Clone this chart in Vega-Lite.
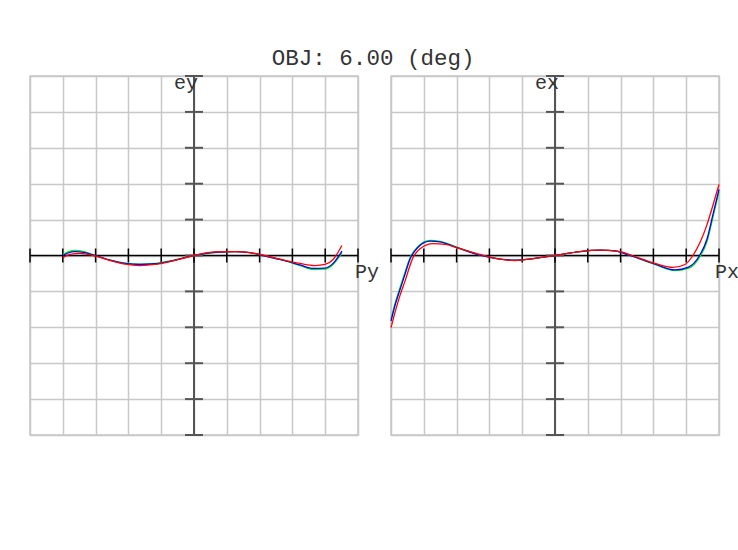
{
  "$schema": "https://vega.github.io/schema/vega-lite/v6.json",
  "padding": {"left": 28, "top": 46, "right": 0, "bottom": 0},
  "bounds": "flush",
  "background": "white",
  "title": {"text": "OBJ: 6.00 (deg)", "anchor": "middle", "font": "Liberation Mono", "fontSize": 22.5, "fontWeight": "normal", "color": "#333333", "offset": 3, "dx": -11},
  "config": {
    "view": {"stroke": "#c8c8c8", "strokeWidth": 1.5},
    "axis": {"grid": true, "gridColor": "#c8c8c8", "gridWidth": 1.5, "gridOpacity": 1, "labels": false, "ticks": false, "domain": false, "title": null, "tickCount": 30, "minExtent": 0, "maxExtent": 0, "offset": 0}
  },
  "datasets": {
    "one": [{"a": 0}],
    "fany": [
      {"Py": -0.8, "ey": 0.3, "wl": "green"},
      {"Py": -0.768, "ey": 1.0, "wl": "green"},
      {"Py": -0.726, "ey": 1.4, "wl": "green"},
      {"Py": -0.665, "ey": 1.0, "wl": "green"},
      {"Py": -0.604, "ey": 0.0, "wl": "green"},
      {"Py": -0.512, "ey": -1.3, "wl": "green"},
      {"Py": -0.421, "ey": -2.1, "wl": "green"},
      {"Py": -0.329, "ey": -2.4, "wl": "green"},
      {"Py": -0.238, "ey": -2.2, "wl": "green"},
      {"Py": -0.146, "ey": -1.5, "wl": "green"},
      {"Py": 0.0, "ey": 0.0, "wl": "green"},
      {"Py": 0.128, "ey": 0.8, "wl": "green"},
      {"Py": 0.25, "ey": 1.1, "wl": "green"},
      {"Py": 0.341, "ey": 0.8, "wl": "green"},
      {"Py": 0.421, "ey": 0.0, "wl": "green"},
      {"Py": 0.524, "ey": -1.1, "wl": "green"},
      {"Py": 0.646, "ey": -2.8, "wl": "green"},
      {"Py": 0.726, "ey": -3.9, "wl": "green"},
      {"Py": 0.799, "ey": -3.8, "wl": "green"},
      {"Py": 0.848, "ey": -2.5, "wl": "green"},
      {"Py": 0.902, "ey": 0.8, "wl": "green"},
      {"Py": -0.8, "ey": 0.0, "wl": "blue"},
      {"Py": -0.768, "ey": 0.7, "wl": "blue"},
      {"Py": -0.726, "ey": 1.1, "wl": "blue"},
      {"Py": -0.665, "ey": 0.8, "wl": "blue"},
      {"Py": -0.604, "ey": 0.0, "wl": "blue"},
      {"Py": -0.512, "ey": -1.3, "wl": "blue"},
      {"Py": -0.421, "ey": -2.2, "wl": "blue"},
      {"Py": -0.329, "ey": -2.5, "wl": "blue"},
      {"Py": -0.238, "ey": -2.3, "wl": "blue"},
      {"Py": -0.146, "ey": -1.6, "wl": "blue"},
      {"Py": 0.0, "ey": 0.0, "wl": "blue"},
      {"Py": 0.128, "ey": 0.9, "wl": "blue"},
      {"Py": 0.25, "ey": 1.1, "wl": "blue"},
      {"Py": 0.341, "ey": 0.8, "wl": "blue"},
      {"Py": 0.421, "ey": 0.0, "wl": "blue"},
      {"Py": 0.524, "ey": -1.1, "wl": "blue"},
      {"Py": 0.646, "ey": -2.6, "wl": "blue"},
      {"Py": 0.726, "ey": -3.6, "wl": "blue"},
      {"Py": 0.799, "ey": -3.5, "wl": "blue"},
      {"Py": 0.848, "ey": -2.2, "wl": "blue"},
      {"Py": 0.902, "ey": 1.2, "wl": "blue"},
      {"Py": -0.8, "ey": -0.6, "wl": "red"},
      {"Py": -0.756, "ey": 0.3, "wl": "red"},
      {"Py": -0.695, "ey": 0.6, "wl": "red"},
      {"Py": -0.604, "ey": -0.1, "wl": "red"},
      {"Py": -0.512, "ey": -1.4, "wl": "red"},
      {"Py": -0.421, "ey": -2.4, "wl": "red"},
      {"Py": -0.329, "ey": -2.8, "wl": "red"},
      {"Py": -0.238, "ey": -2.5, "wl": "red"},
      {"Py": -0.146, "ey": -1.7, "wl": "red"},
      {"Py": 0.0, "ey": 0.0, "wl": "red"},
      {"Py": 0.128, "ey": 1.0, "wl": "red"},
      {"Py": 0.25, "ey": 1.1, "wl": "red"},
      {"Py": 0.341, "ey": 0.8, "wl": "red"},
      {"Py": 0.433, "ey": 0.0, "wl": "red"},
      {"Py": 0.524, "ey": -1.0, "wl": "red"},
      {"Py": 0.646, "ey": -2.2, "wl": "red"},
      {"Py": 0.738, "ey": -2.8, "wl": "red"},
      {"Py": 0.799, "ey": -2.5, "wl": "red"},
      {"Py": 0.848, "ey": -1.1, "wl": "red"},
      {"Py": 0.902, "ey": 2.8, "wl": "red"}
    ],
    "fanx": [
      {"Px": -1.0, "ex": -17.8, "wl": "green"},
      {"Px": -0.976, "ex": -13.4, "wl": "green"},
      {"Px": -0.945, "ex": -8.9, "wl": "green"},
      {"Px": -0.915, "ex": -4.7, "wl": "green"},
      {"Px": -0.884, "ex": -0.6, "wl": "green"},
      {"Px": -0.835, "ex": 2.5, "wl": "green"},
      {"Px": -0.762, "ex": 4.2, "wl": "green"},
      {"Px": -0.701, "ex": 3.9, "wl": "green"},
      {"Px": -0.61, "ex": 2.5, "wl": "green"},
      {"Px": -0.457, "ex": 0.1, "wl": "green"},
      {"Px": -0.335, "ex": -1.0, "wl": "green"},
      {"Px": -0.244, "ex": -1.3, "wl": "green"},
      {"Px": -0.122, "ex": -0.8, "wl": "green"},
      {"Px": 0.0, "ex": 0.0, "wl": "green"},
      {"Px": 0.152, "ex": 1.1, "wl": "green"},
      {"Px": 0.274, "ex": 1.5, "wl": "green"},
      {"Px": 0.366, "ex": 1.3, "wl": "green"},
      {"Px": 0.457, "ex": 0.0, "wl": "green"},
      {"Px": 0.61, "ex": -2.5, "wl": "green"},
      {"Px": 0.732, "ex": -4.2, "wl": "green"},
      {"Px": 0.811, "ex": -3.6, "wl": "green"},
      {"Px": 0.884, "ex": -0.3, "wl": "green"},
      {"Px": 0.927, "ex": 3.9, "wl": "green"},
      {"Px": 0.963, "ex": 10.6, "wl": "green"},
      {"Px": 1.0, "ex": 17.8, "wl": "green"},
      {"Px": -1.0, "ex": -18.3, "wl": "blue"},
      {"Px": -0.976, "ex": -14.0, "wl": "blue"},
      {"Px": -0.945, "ex": -9.5, "wl": "blue"},
      {"Px": -0.915, "ex": -5.3, "wl": "blue"},
      {"Px": -0.884, "ex": -1.0, "wl": "blue"},
      {"Px": -0.835, "ex": 2.3, "wl": "blue"},
      {"Px": -0.762, "ex": 4.0, "wl": "blue"},
      {"Px": -0.701, "ex": 3.8, "wl": "blue"},
      {"Px": -0.61, "ex": 2.4, "wl": "blue"},
      {"Px": -0.457, "ex": 0.1, "wl": "blue"},
      {"Px": -0.335, "ex": -1.0, "wl": "blue"},
      {"Px": -0.244, "ex": -1.3, "wl": "blue"},
      {"Px": -0.122, "ex": -0.8, "wl": "blue"},
      {"Px": 0.0, "ex": 0.0, "wl": "blue"},
      {"Px": 0.152, "ex": 1.1, "wl": "blue"},
      {"Px": 0.274, "ex": 1.5, "wl": "blue"},
      {"Px": 0.366, "ex": 1.3, "wl": "blue"},
      {"Px": 0.457, "ex": 0.0, "wl": "blue"},
      {"Px": 0.61, "ex": -2.4, "wl": "blue"},
      {"Px": 0.732, "ex": -4.0, "wl": "blue"},
      {"Px": 0.811, "ex": -3.3, "wl": "blue"},
      {"Px": 0.884, "ex": 0.2, "wl": "blue"},
      {"Px": 0.927, "ex": 4.6, "wl": "blue"},
      {"Px": 0.963, "ex": 11.4, "wl": "blue"},
      {"Px": 1.0, "ex": 18.4, "wl": "blue"},
      {"Px": -1.0, "ex": -20.1, "wl": "red"},
      {"Px": -0.976, "ex": -15.9, "wl": "red"},
      {"Px": -0.945, "ex": -11.1, "wl": "red"},
      {"Px": -0.915, "ex": -7.2, "wl": "red"},
      {"Px": -0.866, "ex": -0.6, "wl": "red"},
      {"Px": -0.823, "ex": 1.9, "wl": "red"},
      {"Px": -0.744, "ex": 3.3, "wl": "red"},
      {"Px": -0.67, "ex": 3.1, "wl": "red"},
      {"Px": -0.579, "ex": 1.9, "wl": "red"},
      {"Px": -0.457, "ex": 0.3, "wl": "red"},
      {"Px": -0.335, "ex": -1.0, "wl": "red"},
      {"Px": -0.244, "ex": -1.4, "wl": "red"},
      {"Px": -0.122, "ex": -0.8, "wl": "red"},
      {"Px": 0.0, "ex": 0.0, "wl": "red"},
      {"Px": 0.152, "ex": 1.1, "wl": "red"},
      {"Px": 0.274, "ex": 1.5, "wl": "red"},
      {"Px": 0.396, "ex": 1.1, "wl": "red"},
      {"Px": 0.47, "ex": 0.0, "wl": "red"},
      {"Px": 0.61, "ex": -2.2, "wl": "red"},
      {"Px": 0.72, "ex": -3.3, "wl": "red"},
      {"Px": 0.793, "ex": -2.5, "wl": "red"},
      {"Px": 0.841, "ex": 0.0, "wl": "red"},
      {"Px": 0.884, "ex": 3.6, "wl": "red"},
      {"Px": 0.927, "ex": 8.6, "wl": "red"},
      {"Px": 0.963, "ex": 14.0, "wl": "red"},
      {"Px": 1.0, "ex": 19.8, "wl": "red"}
    ],
    "pticks": [
      {"p": -1.0}, {"p": -0.8}, {"p": -0.6}, {"p": -0.4}, {"p": -0.2}, {"p": 0.0},
      {"p": 0.2}, {"p": 0.4}, {"p": 0.6}, {"p": 0.8}, {"p": 1.0}
    ],
    "eticks": [
      {"e": -50}, {"e": -40}, {"e": -30}, {"e": -20}, {"e": -10}, {"e": 0},
      {"e": 10}, {"e": 20}, {"e": 30}, {"e": 40}, {"e": 50}
    ]
  },
  "spacing": 33,
  "hconcat": [
    {
      "width": 328,
      "height": 359,
      "layer": [
        {
          "data": {"name": "one"},
          "mark": {"type": "rule", "color": "#000000", "strokeWidth": 1.5},
          "encoding": {"y": {"datum": 0, "type": "quantitative", "scale": {"domain": [-50, 50], "nice": false}, "axis": {"values": [-50, -40, -30, -20, -10, 0, 10, 20, 30, 40, 50]}}}
        },
        {
          "data": {"name": "one"},
          "mark": {"type": "rule", "color": "#555555", "strokeWidth": 2},
          "encoding": {"x": {"datum": 0, "type": "quantitative", "scale": {"domain": [-1, 1], "nice": false, "zero": false}, "axis": {"values": [-1, -0.8, -0.6, -0.4, -0.2, 0, 0.2, 0.4, 0.6, 0.8, 1]}}}
        },
        {
          "data": {"name": "pticks"},
          "mark": {"type": "tick", "orient": "vertical", "size": 14, "thickness": 1.5, "color": "#000000", "opacity": 1},
          "encoding": {"x": {"field": "p", "type": "quantitative"}, "y": {"datum": 0, "type": "quantitative"}}
        },
        {
          "data": {"name": "eticks"},
          "mark": {"type": "tick", "orient": "horizontal", "size": 18, "thickness": 2, "color": "#555555", "opacity": 1},
          "encoding": {"y": {"field": "e", "type": "quantitative"}, "x": {"datum": 0, "type": "quantitative"}}
        },
        {
          "data": {"name": "fany"},
          "mark": {"type": "line", "interpolate": "monotone", "strokeWidth": 1.3},
          "encoding": {
            "x": {"field": "Py", "type": "quantitative"},
            "y": {"field": "ey", "type": "quantitative"},
            "color": {"field": "wl", "type": "nominal", "scale": {"domain": ["green", "blue", "red"], "range": ["#00ee00", "#0000ff", "#ff0000"]}, "legend": null}
          }
        },
        {
          "data": {"name": "one"},
          "mark": {"type": "text", "font": "Liberation Mono", "fontSize": 20, "color": "#333333", "align": "right", "baseline": "alphabetic", "dx": 4, "dy": 13},
          "encoding": {"x": {"datum": 0, "type": "quantitative"}, "y": {"datum": 50, "type": "quantitative"}, "text": {"value": "ey"}}
        },
        {
          "data": {"name": "one"},
          "mark": {"type": "text", "font": "Liberation Mono", "fontSize": 20, "color": "#333333", "align": "left", "baseline": "alphabetic", "dx": -3, "dy": 22},
          "encoding": {"x": {"datum": 1, "type": "quantitative"}, "y": {"datum": 0, "type": "quantitative"}, "text": {"value": "Py"}}
        }
      ]
    },
    {
      "width": 328,
      "height": 359,
      "layer": [
        {
          "data": {"name": "one"},
          "mark": {"type": "rule", "color": "#000000", "strokeWidth": 1.5},
          "encoding": {"y": {"datum": 0, "type": "quantitative", "scale": {"domain": [-50, 50], "nice": false}, "axis": {"values": [-50, -40, -30, -20, -10, 0, 10, 20, 30, 40, 50]}}}
        },
        {
          "data": {"name": "one"},
          "mark": {"type": "rule", "color": "#555555", "strokeWidth": 2},
          "encoding": {"x": {"datum": 0, "type": "quantitative", "scale": {"domain": [-1, 1], "nice": false, "zero": false}, "axis": {"values": [-1, -0.8, -0.6, -0.4, -0.2, 0, 0.2, 0.4, 0.6, 0.8, 1]}}}
        },
        {
          "data": {"name": "pticks"},
          "mark": {"type": "tick", "orient": "vertical", "size": 14, "thickness": 1.5, "color": "#000000", "opacity": 1},
          "encoding": {"x": {"field": "p", "type": "quantitative"}, "y": {"datum": 0, "type": "quantitative"}}
        },
        {
          "data": {"name": "eticks"},
          "mark": {"type": "tick", "orient": "horizontal", "size": 18, "thickness": 2, "color": "#555555", "opacity": 1},
          "encoding": {"y": {"field": "e", "type": "quantitative"}, "x": {"datum": 0, "type": "quantitative"}}
        },
        {
          "data": {"name": "fanx"},
          "mark": {"type": "line", "interpolate": "monotone", "strokeWidth": 1.3},
          "encoding": {
            "x": {"field": "Px", "type": "quantitative"},
            "y": {"field": "ex", "type": "quantitative"},
            "color": {"field": "wl", "type": "nominal", "scale": {"domain": ["green", "blue", "red"], "range": ["#00ee00", "#0000ff", "#ff0000"]}, "legend": null}
          }
        },
        {
          "data": {"name": "one"},
          "mark": {"type": "text", "font": "Liberation Mono", "fontSize": 20, "color": "#333333", "align": "right", "baseline": "alphabetic", "dx": 4, "dy": 13},
          "encoding": {"x": {"datum": 0, "type": "quantitative"}, "y": {"datum": 50, "type": "quantitative"}, "text": {"value": "ex"}}
        },
        {
          "data": {"name": "one"},
          "mark": {"type": "text", "font": "Liberation Mono", "fontSize": 20, "color": "#333333", "align": "left", "baseline": "alphabetic", "dx": -4, "dy": 22},
          "encoding": {"x": {"datum": 1, "type": "quantitative"}, "y": {"datum": 0, "type": "quantitative"}, "text": {"value": "Px"}}
        }
      ]
    }
  ]
}
